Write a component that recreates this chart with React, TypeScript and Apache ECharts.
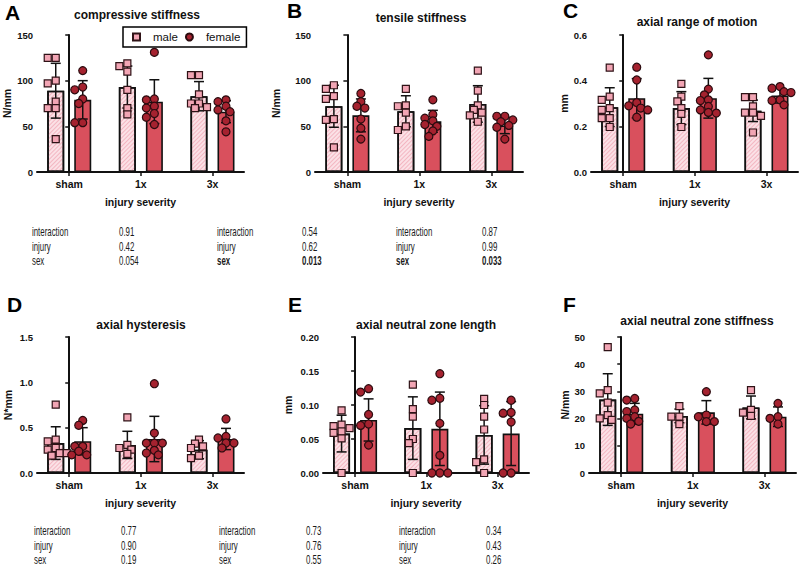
import React, { useEffect, useRef } from "react";
import * as echarts from "echarts";

// ---------- data ----------
const categories = ["sham", "1x", "3x"];
const panelLetters = ["A", "B", "C", "D", "E", "F"];
const panelTitles = [
  "compressive stiffness",
  "tensile stiffness",
  "axial range of motion",
  "axial hysteresis",
  "axial neutral zone length",
  "axial neutral zone stiffness",
];
const yAxisNames = ["N/mm", "N/mm", "mm", "N*mm", "mm", "N/mm"];
const yMaxes = [150, 150, 0.6, 1.5, 0.2, 50];
const yIntervals = [50, 50, 0.2, 0.5, 0.05, 10];
const yDecimals = [0, 0, 1, 1, 2, 0];
const xAxisTitle = "injury severity";
const legendNames = ["male", "female"];

// A: compressive stiffness
const compMaleMean = [89, 93, 83];
const compMaleSD = [30, 23, 16];
const compFemaleMean = [79, 77, 66];
const compFemaleSD = [21, 24, 12];
const compMalePts = [
  [125, 125, 100, 97, 77, 70, 70, 36],
  [119, 116, 110, 90, 70, 63],
  [106, 106, 85, 75, 75, 71, 70],
];
const compFemalePts = [
  [111, 93, 90, 80, 75, 54, 54],
  [131, 80, 79, 72, 70, 64, 60, 52],
  [79, 77, 72, 68, 66, 56, 44],
];

// B: tensile stiffness
const tensMaleMean = [72, 66.5, 74.5];
const tensMaleSD = [23, 17, 20];
const tensFemaleMean = [62, 55.5, 51];
const tensFemaleSD = [18, 12, 9];
const tensMalePts = [
  [95, 91, 83, 80, 58, 57, 27],
  [91, 73, 72, 65, 50, 46],
  [111, 89, 73, 68, 65, 62, 55],
];
const tensFemalePts = [
  [86, 77, 72, 70, 58, 48, 36],
  [79, 63, 59, 56, 52, 50, 45, 39],
  [61, 61, 57, 55, 51, 49, 36],
];

// C: axial range of motion
const romMaleMean = [0.284, 0.28, 0.268];
const romMaleSD = [0.085, 0.072, 0.047];
const romFemaleMean = [0.323, 0.323, 0.335];
const romFemaleSD = [0.086, 0.087, 0.033];
const romMalePts = [
  [0.457, 0.33, 0.316, 0.28, 0.272, 0.236, 0.236, 0.197],
  [0.386, 0.33, 0.309, 0.28, 0.255, 0.197],
  [0.328, 0.328, 0.287, 0.26, 0.26, 0.246, 0.173],
];
const romFemalePts = [
  [0.459, 0.403, 0.304, 0.29, 0.28, 0.272, 0.24],
  [0.513, 0.363, 0.338, 0.316, 0.313, 0.287, 0.272, 0.261, 0.258],
  [0.374, 0.367, 0.352, 0.348, 0.316, 0.313, 0.294],
];

// D: axial hysteresis
const hystMaleMean = [0.33, 0.31, 0.257];
const hystMaleSD = [0.18, 0.15, 0.1];
const hystFemaleMean = [0.35, 0.375, 0.375];
const hystFemaleSD = [0.15, 0.25, 0.117];
const hystMalePts = [
  [0.754, 0.368, 0.349, 0.276, 0.257, 0.22, 0.22, 0.191],
  [0.614, 0.31, 0.276, 0.257, 0.21],
  [0.368, 0.324, 0.294, 0.276, 0.191, 0.165],
];
const hystFemalePts = [
  [0.58, 0.526, 0.294, 0.294, 0.24, 0.2, 0.2],
  [0.985, 0.44, 0.33, 0.33, 0.33, 0.25, 0.22, 0.2],
  [0.596, 0.404, 0.386, 0.331, 0.331, 0.276],
];

// E: axial neutral zone length
const nzlMaleMean = [0.058, 0.066, 0.056];
const nzlMaleSD = [0.027, 0.046, 0.043];
const nzlFemaleMean = [0.078, 0.065, 0.058];
const nzlFemaleSD = [0.031, 0.054, 0.047];
const nzlMalePts = [
  [0.092, 0.071, 0.069, 0.066, 0.061, 0.059, 0.051, 0],
  [0.13, 0.094, 0.083, 0.05, 0.044, 0],
  [0.109, 0.1, 0.083, 0.064, 0.02, 0.016, 0],
];
const nzlFemalePts = [
  [0.124, 0.119, 0.086, 0.072, 0.07, 0.041],
  [0.146, 0.11, 0.107, 0.073, 0.026, 0, 0, 0],
  [0.107, 0.089, 0.088, 0.075, 0, 0],
];

// F: axial neutral zone stiffness
const nzsMaleMean = [27, 21, 24.1];
const nzsMaleSD = [9.5, 2.5, 4.2];
const nzsFemaleMean = [21.8, 22.3, 20.7];
const nzsFemaleSD = [3.8, 4.3, 3.6];
const nzsMalePts = [
  [46.3, 30.5, 29.3, 25.9, 21.3, 20.1, 19.5],
  [24.6, 20.7, 20.7, 18],
  [30.5, 23.2, 22.2, 21],
];
const nzsFemalePts = [
  [27.4, 26.8, 23.2, 22.6, 20.7, 20.1, 19, 18],
  [29.9, 21.3, 20.7, 18.9, 18.9],
  [25.6, 20.7, 20.1, 18],
];

// two-way ANOVA p values
const statLabels = ["interaction", "injury", "sex"];
const pA = ["0.91", "0.42", "0.054"];
const pB = ["0.54", "0.62", "0.013"];
const pC = ["0.87", "0.99", "0.033"];
const pD = ["0.77", "0.90", "0.19"];
const pE = ["0.73", "0.76", "0.55"];
const pF = ["0.34", "0.43", "0.26"];
const sigA = [false, false, false];
const sigB = [false, false, true];
const sigC = [false, false, true];
const sigD = [false, false, false];
const sigE = [false, false, false];
const sigF = [false, false, false];

const panels = [
  { mM: compMaleMean, mS: compMaleSD, fM: compFemaleMean, fS: compFemaleSD, mP: compMalePts, fP: compFemalePts, p: pA, sig: sigA },
  { mM: tensMaleMean, mS: tensMaleSD, fM: tensFemaleMean, fS: tensFemaleSD, mP: tensMalePts, fP: tensFemalePts, p: pB, sig: sigB },
  { mM: romMaleMean, mS: romMaleSD, fM: romFemaleMean, fS: romFemaleSD, mP: romMalePts, fP: romFemalePts, p: pC, sig: sigC },
  { mM: hystMaleMean, mS: hystMaleSD, fM: hystFemaleMean, fS: hystFemaleSD, mP: hystMalePts, fP: hystFemalePts, p: pD, sig: sigD },
  { mM: nzlMaleMean, mS: nzlMaleSD, fM: nzlFemaleMean, fS: nzlFemaleSD, mP: nzlMalePts, fP: nzlFemalePts, p: pE, sig: sigE },
  { mM: nzsMaleMean, mS: nzsMaleSD, fM: nzsFemaleMean, fS: nzsFemaleSD, mP: nzsMalePts, fP: nzsFemalePts, p: pF, sig: sigF },
];

// ---------- layout / style ----------
const FONT = '"Liberation Sans", Arial, Helvetica, sans-serif';
const INK = "#111";
const grids = [
  { left: 37, top: 35, width: 207, height: 137 },
  { left: 315, top: 35, width: 208, height: 137 },
  { left: 591, top: 35, width: 207, height: 137 },
  { left: 37, top: 337, width: 207, height: 136 },
  { left: 323, top: 337, width: 206, height: 136 },
  { left: 589, top: 337, width: 207, height: 136 },
];
const nameGaps = [25, 34, 21, 24, 30, 16];
const titlePos = [[137, 9], [421, 12], [697, 16], [141, 319], [426, 319], [697, 315]];
const letterPos = [[5, 2], [287, 0], [563, 0], [7, 294], [288, 294], [563, 294]];
const statPos = [[32, 119, 232], [217, 302, 232], [396, 482, 232], [34, 121, 531], [219, 306, 531], [399, 486, 531]];
const HALF = 13.5;

function swarm(values: number[], pxPerUnit: number, size: number): number[] {
  const order = values.map((_, i) => i).sort((a, b) => values[b] - values[a]);
  const placed: { x: number; y: number }[] = [];
  const out = new Array(values.length).fill(0);
  const cands = [0, -4, 4, -8, 8, -11, 11];
  for (const i of order) {
    const y = values[i] * pxPerUnit;
    let chosen = 0;
    for (const c of cands) {
      if (placed.every((p) => (p.x - c) ** 2 + (p.y - y) ** 2 >= size * size * 0.55)) {
        chosen = c;
        break;
      }
    }
    placed.push({ x: chosen, y });
    out[i] = chosen;
  }
  return out;
}

function makeErr(off: number) {
  return (params: any, api: any) => {
    const x = api.value(0);
    const m = api.value(1);
    const s = api.value(2);
    const base = api.coord([x, m]);
    const top = api.coord([x, m + s]);
    const bot = api.coord([x, m - s]);
    const cx = base[0] + off;
    const style = { stroke: INK, lineWidth: 1.5 };
    return {
      type: "group",
      children: [
        { type: "line", shape: { x1: cx, y1: top[1], x2: cx, y2: bot[1] }, style },
        { type: "line", shape: { x1: cx - 5, y1: top[1], x2: cx + 5, y2: top[1] }, style },
        { type: "line", shape: { x1: cx - 5, y1: bot[1], x2: cx + 5, y2: bot[1] }, style },
      ],
    };
  };
}

function buildOption() {
  const series: any[] = [];
  panels.forEach((pn, i) => {
    const g = grids[i];
    const pxY = g.height / yMaxes[i];
    const common = { xAxisIndex: i, yAxisIndex: i };
    series.push({
      ...common,
      type: "bar",
      name: "male mean",
      data: categories.map((_, c) => [c, pn.mM[c]]),
      barWidth: 17,
      barGap: "59%",
      itemStyle: {
        color: "#fbe1e6",
        borderColor: INK,
        borderWidth: 1.6,
        decal: {
          symbol: "rect",
          symbolSize: 1,
          color: "rgba(235,140,158,0.5)",
          dashArrayX: [1, 0],
          dashArrayY: [1, 1.6],
          rotation: -Math.PI / 4,
        },
      },
      z: 2,
      silent: true,
    });
    series.push({
      ...common,
      type: "bar",
      name: "female mean",
      data: categories.map((_, c) => [c, pn.fM[c]]),
      barWidth: 17,
      barGap: "59%",
      itemStyle: { color: "#d9505d", borderColor: INK, borderWidth: 1.6 },
      z: 2,
      silent: true,
    });
    series.push({
      ...common,
      type: "custom",
      name: "male sd",
      data: categories.map((_, c) => [c, pn.mM[c], pn.mS[c]]),
      encode: { x: 0, y: 1 },
      renderItem: makeErr(-HALF),
      z: 3,
      silent: true,
      clip: false,
    });
    series.push({
      ...common,
      type: "custom",
      name: "female sd",
      data: categories.map((_, c) => [c, pn.fM[c], pn.fS[c]]),
      encode: { x: 0, y: 1 },
      renderItem: makeErr(HALF),
      z: 3,
      silent: true,
      clip: false,
    });
    const mData: any[] = [];
    const fData: any[] = [];
    categories.forEach((_, c) => {
      const mj = swarm(pn.mP[c], pxY, 7.5);
      pn.mP[c].forEach((v, k) => mData.push({ value: [c, v], symbolOffset: [-HALF + mj[k], 0] }));
      const fj = swarm(pn.fP[c], pxY, 8);
      pn.fP[c].forEach((v, k) => fData.push({ value: [c, v], symbolOffset: [HALF + fj[k], 0] }));
    });
    series.push({
      ...common,
      type: "scatter",
      name: legendNames[0],
      data: mData,
      symbol: "rect",
      symbolSize: 7,
      itemStyle: { color: "#f2a5b4", borderColor: "#2e1216", borderWidth: 1.2, opacity: 1 },
      z: 4,
      clip: false,
    });
    series.push({
      ...common,
      type: "scatter",
      name: legendNames[1],
      data: fData,
      symbol: "circle",
      symbolSize: 8,
      itemStyle: { color: "#a5222f", borderColor: "#2b0b0f", borderWidth: 1.2, opacity: 1 },
      z: 4,
      clip: false,
    });
  });

  const graphic: any[] = [];
  panelLetters.forEach((L, i) => {
    graphic.push({
      type: "text",
      x: letterPos[i][0],
      y: letterPos[i][1],
      style: { text: L, fontSize: 21, fontWeight: "bold", fontFamily: FONT, fill: "#000", verticalAlign: "top", align: "left" },
    });
  });
  panels.forEach((pn, i) => {
    statLabels.forEach((lab, r) => {
      const y = statPos[i][2] + r * 14.6;
      const fw = pn.sig[r] ? "bold" : "normal";
      graphic.push({
        type: "text",
        x: statPos[i][0],
        y,
        scaleX: 0.63,
        style: { text: lab, fontSize: 12.5, fontWeight: fw, fontFamily: FONT, fill: "#1a1a1a", verticalAlign: "middle", align: "left" },
      });
      graphic.push({
        type: "text",
        x: statPos[i][1],
        y,
        scaleX: 0.63,
        style: { text: pn.p[r], fontSize: 12.5, fontWeight: fw, fontFamily: FONT, fill: "#1a1a1a", verticalAlign: "middle", align: "left" },
      });
    });
  });

  const axisText = { color: INK, fontFamily: FONT, fontWeight: "bold" as const };

  return {
    animation: false,
    backgroundColor: "#fff",
    title: panelTitles.map((t, i) => ({
      text: t,
      left: titlePos[i][0],
      top: titlePos[i][1],
      textAlign: "center",
      padding: 0,
      textStyle: { fontSize: 12, fontWeight: "bold", color: INK, fontFamily: FONT },
    })),
    legend: {
      data: legendNames,
      left: 123,
      top: 27,
      orient: "horizontal",
      itemWidth: 7,
      itemHeight: 7,
      itemGap: 7,
      padding: [4, 6, 4, 9],
      borderColor: "#000",
      borderWidth: 1.5,
      selectedMode: false,
      textStyle: { fontSize: 11.5, color: INK, fontFamily: FONT, padding: [0, 4, 0, 8] },
    },
    grid: grids.map((g) => ({ ...g })),
    xAxis: grids.map((_, i) => ({
      type: "value",
      gridIndex: i,
      min: -0.45,
      max: 2.44,
      axisLine: { show: true, lineStyle: { color: INK, width: 2 } },
      axisTick: { show: true, customValues: [0, 1, 2], length: 4, lineStyle: { color: INK, width: 1.5 } },
      axisLabel: {
        customValues: [0, 1, 2],
        formatter: (v: number) => categories[Math.round(v)] ?? "",
        fontSize: 10.5,
        margin: 6,
        ...axisText,
      },
      splitLine: { show: false },
      name: xAxisTitle,
      nameLocation: "middle",
      nameGap: 24,
      nameTextStyle: { fontSize: 10.5, ...axisText },
    })),
    yAxis: grids.map((_, i) => ({
      type: "value",
      gridIndex: i,
      min: 0,
      max: yMaxes[i],
      interval: yIntervals[i],
      axisLine: { show: true, lineStyle: { color: INK, width: 2 } },
      axisTick: { show: true, length: 4, lineStyle: { color: INK, width: 1.5 } },
      axisLabel: {
        formatter: (v: number) => v.toFixed(yDecimals[i]),
        fontSize: 9.5,
        margin: 4,
        ...axisText,
      },
      splitLine: { show: false },
      name: yAxisNames[i],
      nameLocation: "middle",
      nameRotate: 90,
      nameGap: nameGaps[i],
      nameTextStyle: { fontSize: 10.5, ...axisText },
    })),
    series,
    graphic,
  };
}

export default function App() {
  const ref = useRef<HTMLDivElement>(null);
  useEffect(() => {
    if (!ref.current) return;
    const chart = echarts.init(ref.current, null, { renderer: "svg" });
    chart.setOption(buildOption() as any);
    return () => chart.dispose();
  }, []);
  return (
    <div
      ref={ref}
      style={{ position: "fixed", left: 0, top: 0, width: 800, height: 568, background: "#fff" }}
    />
  );
}
